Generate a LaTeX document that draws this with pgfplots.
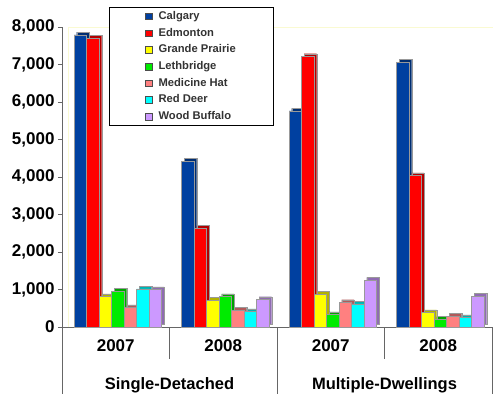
\documentclass[border=0pt]{standalone}
\usepackage{pgfplots}
\usepackage{pgfplotstable}
\usepackage{fontspec}
\setmainfont{Liberation Sans}
\pgfplotsset{compat=1.18}

\definecolor{cCal}{RGB}{0,64,160}
\definecolor{cEdm}{RGB}{255,0,0}
\definecolor{cGP}{RGB}{255,255,0}
\definecolor{cLet}{RGB}{0,235,0}
\definecolor{cMH}{RGB}{255,128,128}
\definecolor{cRD}{RGB}{0,255,255}
\definecolor{cWB}{RGB}{204,153,255}
\definecolor{wall}{RGB}{250,250,210}

% housing starts by centre: rows = SD 2007, SD 2008, MD 2007, MD 2008
\pgfplotstableread{
x Calgary Edmonton GrandePrairie Lethbridge MedicineHat RedDeer WoodBuffalo
0 7790 7700 810 960 515 1015 995
1 4420 2630 710 810 445 410 735
2 5760 7215 880 330 655 620 1250
3 7065 4035 385 205 285 250 820
}\starts

% front face of a bar and its darker side/top face
\pgfplotsset{
  front/.style 2 args={ybar, bar width=12.5pt, bar shift=#2,
    fill=#1, draw=gray!80, line width=0.4pt,
    legend image code/.code={\draw[fill=#1, draw=black!70, line width=0.4pt] (0pt,-3.3pt) rectangle (6.6pt,3.3pt);
      \path[draw=none, fill=none] (0pt,0pt) rectangle (11pt,0.1pt);}},
  side/.style 2 args={ybar, bar width=12.5pt, bar shift=#2,
    fill=#1!70!black, draw=gray!80, line width=0.4pt,
    xshift=2.7pt, yshift=2.7pt, forget plot},
}

\begin{document}
\begin{tikzpicture}
\path[use as bounding box] (0,0) rectangle (493pt,394pt);
\begin{axis}[
  at={(62pt,67pt)}, anchor=south west,
  scale only axis, width=430pt, height=300pt,
  xmin=-0.5, xmax=3.5, ymin=0, ymax=8000,
  clip=false,
  axis lines*=left,
  axis line style={gray!80!black, line width=0.6pt},
  xtick={0,1,2,3},
  xticklabels={2007,2008,2007,2008},
  xticklabel style={font=\bfseries\fontsize{17}{17}\selectfont, yshift=-5pt},
  major x tick style={draw=none},
  ytick={0,1000,...,8000},
  ytick style={gray!80!black},
  tick align=outside,
  major tick length=4pt,
  yticklabel style={font=\bfseries\fontsize{17}{17}\selectfont},
  /pgf/number format/assume math mode=true,
  /pgf/number format/.cd, 1000 sep={,},
  /pgfplots/.cd,
  legend style={at={(0.1093,1.0667)}, anchor=north west,
    draw=black, fill=white, line width=0.8pt,
    font=\bfseries\fontsize{11.2}{12}\selectfont, text=black!80,
    inner xsep=36pt, inner ysep=3.5pt, row sep=5.7pt,
    nodes={inner ysep=0pt, text height=8.5pt, text depth=2.5pt}},
  legend cell align=left,
]
% back wall outline
\draw[wall, line width=0.8pt] ([xshift=6pt]rel axis cs:0,0) -- ([xshift=6pt]rel axis cs:0,1) -- ([xshift=1pt]rel axis cs:1,1);

\addplot[side={cCal}{-35.5pt}] table[x=x, y=Calgary] {\starts};
\addplot[front={cCal}{-35.5pt}] table[x=x, y=Calgary] {\starts};
\addlegendentry{Calgary}
\addplot[side={cEdm}{-23pt}] table[x=x, y=Edmonton] {\starts};
\addplot[front={cEdm}{-23pt}] table[x=x, y=Edmonton] {\starts};
\addlegendentry{Edmonton}
\addplot[side={cGP}{-10.5pt}] table[x=x, y=GrandePrairie] {\starts};
\addplot[front={cGP}{-10.5pt}] table[x=x, y=GrandePrairie] {\starts};
\addlegendentry{Grande Prairie}
\addplot[side={cLet}{2pt}] table[x=x, y=Lethbridge] {\starts};
\addplot[front={cLet}{2pt}] table[x=x, y=Lethbridge] {\starts};
\addlegendentry{Lethbridge}
\addplot[side={cMH}{14.5pt}] table[x=x, y=MedicineHat] {\starts};
\addplot[front={cMH}{14.5pt}] table[x=x, y=MedicineHat] {\starts};
\addlegendentry{Medicine Hat}
\addplot[side={cRD}{27pt}] table[x=x, y=RedDeer] {\starts};
\addplot[front={cRD}{27pt}] table[x=x, y=RedDeer] {\starts};
\addlegendentry{Red Deer}
\addplot[side={cWB}{39.5pt}] table[x=x, y=WoodBuffalo] {\starts};
\addplot[front={cWB}{39.5pt}] table[x=x, y=WoodBuffalo] {\starts};
\addlegendentry{Wood Buffalo}

% category dividers below the axis
\draw[gray!80!black, line width=0.6pt] (axis cs:-0.5,0) -- ([yshift=-67pt]axis cs:-0.5,0);
\draw[gray!80!black, line width=0.6pt] (axis cs:0.5,0) -- ([yshift=-32pt]axis cs:0.5,0);
\draw[gray!80!black, line width=0.6pt] (axis cs:1.5,0) -- ([yshift=-67pt]axis cs:1.5,0);
\draw[gray!80!black, line width=0.6pt] (axis cs:2.5,0) -- ([yshift=-32pt]axis cs:2.5,0);
\draw[gray!80!black, line width=0.6pt] (axis cs:3.5,0) -- ([yshift=-67pt]axis cs:3.5,0);
\node[font=\bfseries\fontsize{16.5}{17}\selectfont] at ([yshift=-58pt]axis cs:0.5,0) {Single-Detached};
\node[font=\bfseries\fontsize{16.5}{17}\selectfont] at ([yshift=-58pt]axis cs:2.5,0) {Multiple-Dwellings};
\end{axis}
\end{tikzpicture}
\end{document}
